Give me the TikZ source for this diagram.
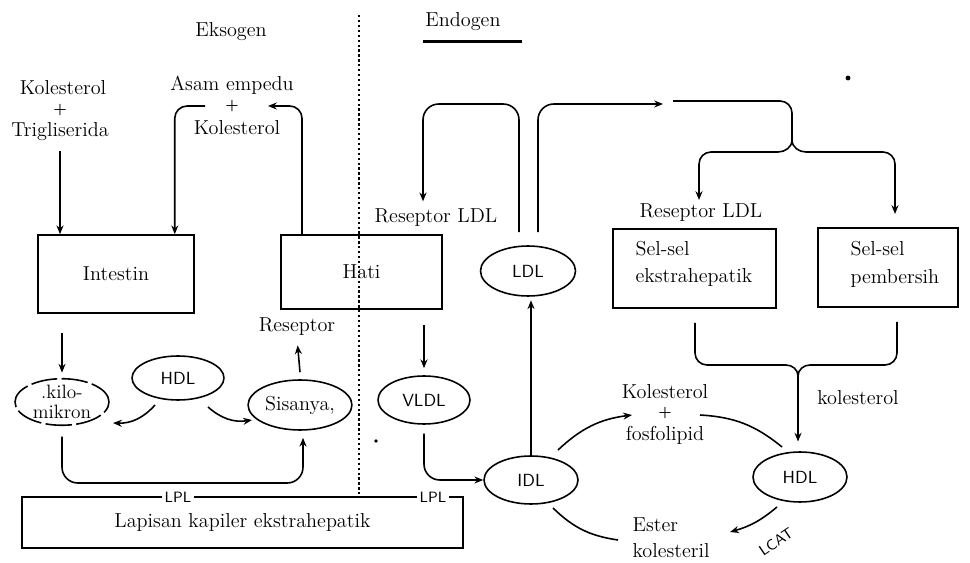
\documentclass[tikz,border=0pt]{standalone}
\usetikzlibrary{shapes.geometric,arrows.meta}
\begin{document}
\begin{tikzpicture}[x=0.02cm,y=-0.02cm,line width=0.9pt,
  txt/.style={font=\fontsize{11.5}{14}\selectfont,inner sep=1pt},
  plus/.style={font=\bfseries\footnotesize,inner sep=0.5pt},
  sf/.style={font=\sffamily\fontsize{10}{12}\selectfont},
  sfs/.style={font=\sffamily\fontsize{8.5}{10}\selectfont},
  bx/.style={draw,inner sep=0pt},
  el/.style={draw,ellipse,inner sep=0pt},
  arr/.style={-{Stealth[length=5pt,width=4pt]}},
  arr2/.style={{Stealth[length=5pt,width=4pt]}-{Stealth[length=5pt,width=4pt]}}]
\useasboundingbox (0,0) rectangle (970,563);

% ---------- headings ----------
\node[txt] (eks) at (231,32) {Eksogen};
\node[txt] (endo) at (463,22) {Endogen};
\draw[line width=1.3pt] ([yshift=-0.16cm]endo.south west) -- ++(99,0);
\draw[dash pattern=on 1.3pt off 1.5pt,line width=1.4pt] (359,15) coordinate (dtop) -- (359,497) coordinate (dbot);

% ---------- eksogen side ----------
\node[txt] (kol1) at (63,88) {Kolesterol};
\node[plus] (p1) at (60,110) {+};
\node[txt] (trig) at (60,132) {Trigliserida};
\node[txt] (asam) at (232,85) {Asam empedu};
\node[plus] (p2) at (232,106) {+};
\node[txt] (kol2) at (237,128) {Kolesterol};

\node[bx,txt,minimum width=3.12cm,minimum height=1.56cm] (int) at (116,274) {Intestin};
\node[bx,txt,minimum width=3.22cm,minimum height=1.48cm] (hati) at (361.5,272) {Hati};
\node[txt] (rsp) at (297,327) {Reseptor};

\node[el,minimum width=1.88cm,minimum height=0.92cm,dash pattern=on 15pt off 2.5pt,
      font=\fontsize{11}{11}\selectfont,align=center] (kilo) at (62,402) {.kilo-\\mikron};
\node[el,sf,minimum width=1.84cm,minimum height=0.88cm] (hdl1) at (178,378) {HDL};
\node[el,txt,minimum width=1.92cm,minimum height=1.0cm] (sis) at (300,405) {Sisanya,};

\draw[arr,shorten <=4pt] (trig.south) -- (trig.south |- int.north);
\coordinate (bl) at (205,106);
\coordinate (br) at (268,106);
\draw[arr,rounded corners=7pt] (bl) -| ([xshift=-0.4cm]int.north east);
\draw[arr,rounded corners=7pt] ([xshift=-1.19cm]hati.north) |- (br);
\draw[arr,shorten >=3pt] ([yshift=-0.38cm]int.south -| kilo.north) -- (kilo.north);
\draw[arr,shorten >=4pt] ([yshift=0.14cm]sis.north) -- (rsp.south);

\coordinate (h1a) at (155,405);
\coordinate (h1b) at (113,423);
\coordinate (h2a) at (208,407);
\coordinate (h2b) at (252,420);
\draw[arr] (h1a) to[bend left=25] (h1b);
\draw[arr] (h2a) to[bend right=25] (h2b);

\coordinate (bot) at (183,483);
\draw[arr,rounded corners=9pt,shorten <=6pt,shorten >=4pt] (kilo.south) |- (bot) -| ([xshift=0.06cm]sis.south);

\node[bx,txt,minimum width=8.82cm,minimum height=1.02cm] (lap) at (242.5,522.5) {Lapisan kapiler ekstrahepatik};
\node[sfs,fill=white,inner sep=1.5pt] (lpl1) at (178,497) {LPL};
\node[sfs,fill=white,inner sep=1.5pt] (lpl2) at (433,497) {LPL};

% ---------- endogen side ----------
\node[txt] (rldl1) at (436,218) {Reseptor LDL};
\draw ([yshift=-0.1cm]rldl1.south -| 417,0) -- (hati.north -| 417,0);

\node[el,sf,minimum width=1.9cm,minimum height=1.0cm] (ldl) at (528,271) {LDL};
\node[el,sf,minimum width=1.84cm,minimum height=0.96cm] (vldl) at (424,400) {VLDL};
\node[el,sf,minimum width=1.88cm,minimum height=0.96cm] (idl) at (531,480) {IDL};
\node[el,sf,minimum width=1.88cm,minimum height=1.0cm] (hdl2) at (800,477) {HDL};

\node[bx,minimum width=3.26cm,minimum height=1.58cm] (selA) at (694.5,268.5) {};
\node[txt,anchor=base west] (selA1) at (633,256) {Sel-sel};
\node[txt,anchor=base west] (selA2) at (633,283) {ekstrahepatik};
\node[bx,minimum width=2.8cm,minimum height=1.58cm] (selB) at (888,267.5) {};
\node[txt,anchor=base west] (selB1) at (848,256) {Sel-sel};
\node[txt,anchor=base west] (selB2) at (848,284) {pembersih};
\node[txt] (rldl2) at (701,213) {Reseptor LDL};

\draw[arr,shorten >=4pt] ([yshift=-0.3cm]hati.south -| vldl.north) -- (vldl.north);
\draw[arr,rounded corners=9pt,shorten <=5pt] (vldl.south) |- (idl.west);
\draw[arr,shorten >=2pt] (idl.north) -- (idl.north |- ldl.south);

\coordinate (t1) at (470,104);
\coordinate (a1) at (663,104);
\coordinate (a2) at (673,101);
\coordinate (fork) at (792,140);
\coordinate (tl) at (699,200);
\coordinate (tr) at (895,214);
\draw[arr,rounded corners=9pt,shorten >=3pt] ([shift={(-0.18cm,0.26cm)}]ldl.north) |- (t1) -| (rldl1.north -| 423,0);
\draw[arr,rounded corners=9pt] ([shift={(0.2cm,0.26cm)}]ldl.north) |- (a1);
\draw[line join=round] (a2) -- (780,101) to[out=0,in=90] (792,113) -- (fork);
\draw[arr2,line join=round]
  (tl) -- (699,164) to[out=90,in=180] (711,152) -- (778,152) to[out=0,in=-90] (fork)
  to[out=-90,in=180] (806,152) -- (883,152) to[out=0,in=90] (895,164) -- (tr);

\coordinate (mrg) at (798,376);
\draw[line join=round]
  ([yshift=-0.28cm]selA.south -| 695,0) -- (695,353) to[out=-90,in=180] (707,365) -- (786,365)
  to[out=0,in=90] (mrg) to[out=90,in=180] (810,365) -- (885,365) to[out=0,in=-90] (897,353)
  -- ([yshift=-0.28cm]selB.south -| 897,0);
\draw[arr,shorten >=5.5pt] (mrg) -- (mrg |- hdl2.north);
\node[txt] (kolr) at (858,398) {kolesterol};

\node[txt] (kf1) at (665,392) {Kolesterol};
\node[plus] (kf2) at (665,413) {+};
\node[txt] (kf3) at (665,435) {fosfolipid};

\coordinate (c1) at (558,450);
\coordinate (c2) at (632,415);
\coordinate (c3) at (700,415);
\coordinate (c4) at (782,447);
\draw[arr] (c1) to[bend left=18] (c2);
\draw (c3) to[bend left=18] (c4);

\node[txt,anchor=base west] (est1) at (630,531) {Ester};
\node[txt,anchor=base west] (est2) at (630,557) {kolesteril};
\coordinate (e1) at (553,508);
\coordinate (e2) at (618,540);
\coordinate (l1) at (777,507);
\coordinate (l2) at (730,532);
\draw (e1) to[bend right=18] (e2);
\draw[arr] (l1) to[bend left=12] (l2);
\node[sfs,rotate=34,inner sep=0.5pt] (lcat) at (776,542) {LCAT};

% scan specks
\fill (848,78) circle[radius=1.4pt];
\fill (376,441) circle[radius=1.1pt];
\end{tikzpicture}
\end{document}
